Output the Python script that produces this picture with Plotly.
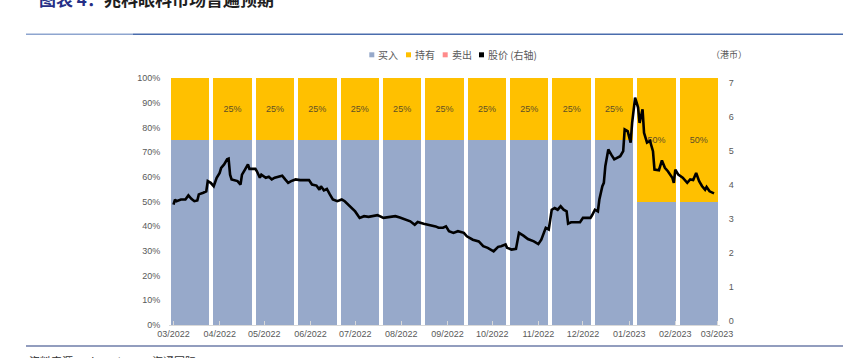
import plotly.graph_objects as go

# ---------------- data ----------------
months = ["03/2022", "04/2022", "05/2022", "06/2022", "07/2022", "08/2022", "09/2022",
          "10/2022", "11/2022", "12/2022", "01/2023", "02/2023", "03/2023"]
buy = [0.75, 0.75, 0.75, 0.75, 0.75, 0.75, 0.75, 0.75, 0.75, 0.75, 0.75, 0.50, 0.50]
hold = [0.25, 0.25, 0.25, 0.25, 0.25, 0.25, 0.25, 0.25, 0.25, 0.25, 0.25, 0.50, 0.50]
sell = [0, 0, 0, 0, 0, 0, 0, 0, 0, 0, 0, 0, 0]
hold_labels = ["", "25%", "25%", "25%", "25%", "25%", "25%", "25%", "25%", "25%", "25%", "50%", "50%"]

price_dates = [
    "2022-03-01", "2022-03-02", "2022-03-03", "2022-03-06", "2022-03-09", "2022-03-11",
    "2022-03-13", "2022-03-15", "2022-03-17", "2022-03-18", "2022-03-21", "2022-03-23",
    "2022-03-24", "2022-03-26", "2022-03-28", "2022-03-30", "2022-04-01", "2022-04-02",
    "2022-04-04", "2022-04-06", "2022-04-07", "2022-04-08", "2022-04-09", "2022-04-11",
    "2022-04-13", "2022-04-15", "2022-04-16", "2022-04-18", "2022-04-20", "2022-04-21",
    "2022-04-25", "2022-04-26", "2022-04-28", "2022-04-29", "2022-05-02", "2022-05-04",
    "2022-05-06", "2022-05-08", "2022-05-11", "2022-05-13", "2022-05-15", "2022-05-17",
    "2022-05-19", "2022-05-22", "2022-05-25", "2022-05-28", "2022-05-31", "2022-06-02",
    "2022-06-05", "2022-06-07", "2022-06-08", "2022-06-10", "2022-06-12", "2022-06-14",
    "2022-06-16", "2022-06-19", "2022-06-22", "2022-06-24", "2022-06-27", "2022-07-01",
    "2022-07-04", "2022-07-07", "2022-07-10", "2022-07-13", "2022-07-16", "2022-07-20",
    "2022-07-24", "2022-07-28", "2022-07-31", "2022-08-03", "2022-08-07", "2022-08-10",
    "2022-08-12", "2022-08-16", "2022-08-20", "2022-08-24", "2022-08-26", "2022-08-29",
    "2022-08-31", "2022-09-02", "2022-09-05", "2022-09-08", "2022-09-12", "2022-09-14",
    "2022-09-18", "2022-09-22", "2022-09-25", "2022-09-28", "2022-10-02", "2022-10-05",
    "2022-10-07", "2022-10-10", "2022-10-11", "2022-10-14", "2022-10-17", "2022-10-19",
    "2022-10-22", "2022-10-25", "2022-10-29", "2022-11-01", "2022-11-03", "2022-11-06",
    "2022-11-08", "2022-11-10", "2022-11-12", "2022-11-14", "2022-11-16", "2022-11-18",
    "2022-11-20", "2022-11-21", "2022-11-23", "2022-11-29", "2022-12-01", "2022-12-06",
    "2022-12-07", "2022-12-09", "2022-12-11", "2022-12-12", "2022-12-14", "2022-12-15",
    "2022-12-16", "2022-12-18", "2022-12-20", "2022-12-22", "2022-12-26", "2022-12-28",
    "2022-12-29", "2022-12-31", "2023-01-02", "2023-01-03", "2023-01-05", "2023-01-07",
    "2023-01-08", "2023-01-10", "2023-01-11", "2023-01-13", "2023-01-15", "2023-01-17",
    "2023-01-18", "2023-01-21", "2023-01-23", "2023-01-25", "2023-01-27", "2023-01-30",
    "2023-01-31", "2023-02-01", "2023-02-03", "2023-02-06", "2023-02-09", "2023-02-11",
    "2023-02-13", "2023-02-15", "2023-02-17", "2023-02-19", "2023-02-21", "2023-02-22",
    "2023-02-24", "2023-02-27",
]
price_values = [
    3.41, 3.56, 3.51, 3.56, 3.56, 3.68,
    3.58, 3.51, 3.53, 3.71, 3.76, 3.80,
    4.10, 4.05, 3.95, 4.20, 4.34, 4.49,
    4.59, 4.74, 4.76, 4.29, 4.15, 4.13,
    4.10, 4.00, 4.29, 4.44, 4.59, 4.46,
    4.46, 4.39, 4.20, 4.29, 4.20, 4.23,
    4.15, 4.20, 4.24, 4.26, 4.15, 4.05,
    4.10, 4.15, 4.13, 4.12, 4.13, 4.00,
    3.97, 3.85, 3.95, 3.83, 3.87, 3.71,
    3.56, 3.51, 3.56, 3.51, 3.38, 3.21,
    3.02, 3.07, 3.05, 3.07, 3.10, 3.02,
    3.04, 3.07, 3.03, 2.99, 2.92, 2.82,
    2.90, 2.85, 2.82, 2.77, 2.73, 2.73,
    2.77, 2.63, 2.58, 2.63, 2.58, 2.48,
    2.38, 2.33, 2.19, 2.14, 2.04, 2.17,
    2.19, 2.24, 2.14, 2.09, 2.11, 2.58,
    2.50, 2.40, 2.33, 2.25, 2.38, 2.73,
    2.68, 3.26, 3.31, 3.26, 3.36, 3.26,
    3.21, 2.85, 2.89, 2.89, 3.02, 3.02,
    3.09, 3.26, 3.21, 3.56, 3.95, 4.05,
    4.54, 5.03, 4.88, 4.74, 4.83, 4.98,
    5.62, 5.57, 5.23, 5.81, 6.55, 6.26,
    5.81, 6.21, 5.52, 5.23, 5.28, 4.98,
    4.44, 4.42, 4.71, 4.49, 4.39, 4.20,
    4.05, 4.44, 4.29, 4.20, 4.05, 4.15,
    4.13, 4.34, 4.10, 3.95, 3.85, 3.93,
    3.80, 3.74,
]

# ---------------- styles ----------------
BLUE = "#97A9CA"
YELLOW = "#FFC000"
RED = "#FF8B8B"
GRAY = "#595959"
LATIN = "Liberation Sans, Noto Sans CJK SC, sans-serif"
CJK = "Noto Sans CJK SC, sans-serif"

W, H = 843, 358
L, R, T, B = 169, 123, 78, 33
PW, PH = W - L - R, H - T - B


def px(x):
    return (x - L) / PW


def py(y):
    return (H - B - y) / PH


fig = go.Figure()
fig.add_bar(x=months, y=buy, name="买入", marker=dict(color=BLUE, line=dict(width=0)),
            showlegend=False)
fig.add_bar(x=months, y=hold, name="持有", marker=dict(color=YELLOW, line=dict(width=0)),
            text=hold_labels, textposition="inside", insidetextanchor="middle",
            textangle=0, constraintext="none",
            textfont=dict(family=LATIN, size=9, color="#5E4F28"), showlegend=False)
fig.add_bar(x=months, y=sell, name="卖出", marker=dict(color=RED, line=dict(width=0)),
            showlegend=False)
fig.add_scatter(x=price_dates, y=price_values, name="股价 (右轴)", xaxis="x2", yaxis="y2",
                mode="lines", line=dict(color="black", width=2.6), showlegend=False)

fig.update_layout(
    width=W, height=H,
    margin=dict(l=L, r=R, t=T, b=B, pad=0),
    paper_bgcolor="white", plot_bgcolor="white",
    barmode="stack", bargap=0.094,
    showlegend=False,
    xaxis=dict(type="category", showticklabels=False, ticks="", showgrid=False,
               zeroline=False, showline=False, range=[-0.5, 12.5]),
    yaxis=dict(range=[0, 1], dtick=0.1, tick0=0, tickformat=".0%", showgrid=False,
               zeroline=False, showline=False, ticks="outside", ticklen=6,
               tickcolor="rgba(0,0,0,0)",
               tickfont=dict(family=LATIN, size=9, color=GRAY)),
    xaxis2=dict(overlaying="x", anchor="y", side="bottom", type="date",
                range=["2022-02-25 23:30", "2023-03-03 00:15"],
                tick0="2022-03-01", dtick="M1", tickformat="%m/%Y",
                showgrid=False, zeroline=False, showline=True, linecolor="#D9D9D9",
                linewidth=1, ticks="inside", ticklen=4, tickcolor="#D9D9D9",
                tickfont=dict(family=LATIN, size=9, color=GRAY)),
    yaxis2=dict(overlaying="y", anchor="x", side="right", range=[-0.126, 7.129],
                dtick=1, tick0=0, showgrid=False, zeroline=False, showline=False,
                ticks="outside", ticklen=6, tickcolor="rgba(0,0,0,0)",
                tickfont=dict(family=LATIN, size=9, color=GRAY)),
)

# header / footer rules
shapes = [
    dict(type="line", xref="paper", yref="paper", x0=px(26), x1=px(133), y0=py(34.3), y1=py(34.3),
         line=dict(color="#8EA5CF", width=1.5)),
    dict(type="line", xref="paper", yref="paper", x0=px(133), x1=px(843), y0=py(34.3), y1=py(34.3),
         line=dict(color="#4A6DAD", width=1.5)),
    dict(type="line", xref="paper", yref="paper", x0=px(26), x1=px(843), y0=py(346), y1=py(346),
         line=dict(color="#6E7DA8", width=1.5)),
]

# legend (manual, to match the compact Excel legend)
legend_items = [("买入", BLUE, 369.3), ("持有", YELLOW, 406), ("卖出", RED, 442.7),
                ("股价 (右轴)", "black", 479)]
annotations = []
for label, color, x0 in legend_items:
    shapes.append(dict(type="rect", xref="paper", yref="paper", x0=px(x0), x1=px(x0 + 5),
                       y0=py(57.3), y1=py(52.3), fillcolor=color, line=dict(width=0)))
    annotations.append(dict(text=label, xref="paper", yref="paper", x=px(x0 + 7), y=py(54.8),
                            xanchor="left", yanchor="middle", showarrow=False,
                            font=dict(family=CJK, size=10, color=GRAY)))

annotations.append(dict(text="（港币）", xref="paper", yref="paper", x=px(729), y=py(54.5),
                        xanchor="center", yanchor="middle", showarrow=False,
                        font=dict(family=CJK, size=9, color=GRAY)))
annotations.append(dict(text="<b><span style='color:#262F86'>图表 4：</span>兆科眼科市场普遍预期</b>",
                        xref="paper", yref="paper", x=px(36.7), y=py(-1.5),
                        xanchor="left", yanchor="middle", showarrow=False,
                        font=dict(family=CJK, size=17, color="#1E1E1E")))
annotations.append(dict(text="资料来源：Bloomberg，海通国际", xref="paper", yref="paper",
                        x=px(27), y=py(351), xanchor="left", yanchor="top", showarrow=False,
                        font=dict(family=CJK, size=11, color="#333333")))

fig.update_layout(shapes=shapes, annotations=annotations)

# remove the browser's default 8px body margin so the figure sits at the page origin
fig.write_html("out.html", config={"displayModeBar": False},
               post_script="document.body.style.margin='0px';")
